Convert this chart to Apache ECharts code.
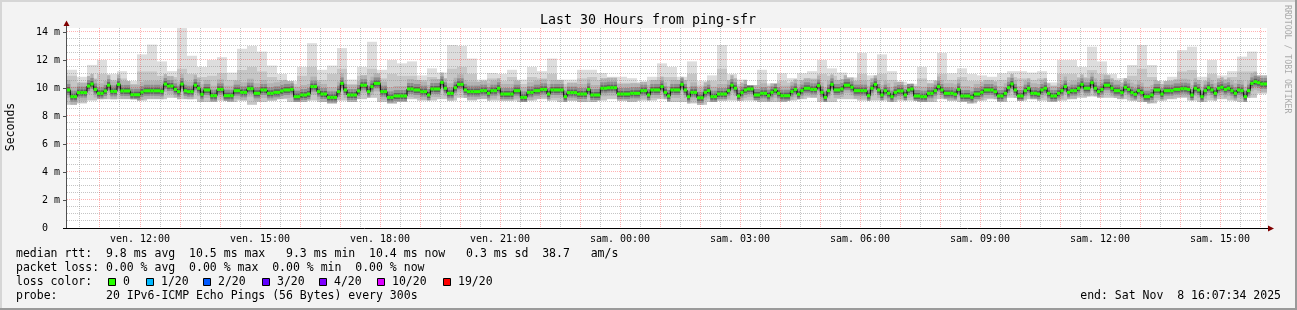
<!DOCTYPE html>
<html><head><meta charset="utf-8">
<script src="https://cdn.jsdelivr.net/npm/echarts@6/dist/echarts.min.js"></script>
<style>html,body{margin:0;padding:0;background:#f3f3f3;}#c{width:1297px;height:310px;}</style>
</head><body><div id="c"></div>
<script>
// ---- time axis (hours since Fri 00:00) ----
const startHour = 10.175;   // Fri 10:10:30
const endHour = 40.175;     // Sat 16:10:30
const medianStepH = 5 / 60;  // 300 s samples
const smokeStepH = 15 / 60;
const yAxisMax = 14.2857;

// median RTT (ms), one value per 5-minute sample
const medianRtt = [
9.86,9.38,9.38,9.67,9.67,9.67,10.14,10.29,9.9,9.62,9.62,9.79,
10.2,9.76,9.76,10.26,9.79,9.79,9.79,9.52,9.52,9.52,9.71,9.8,
9.8,9.8,9.8,9.8,9.76,10.28,10.14,10.14,9.9,9.74,10.28,9.8,
9.74,9.74,10.2,9.98,9.55,9.86,9.86,9.45,9.45,9.9,9.9,9.45,
9.45,9.45,9.81,9.81,9.69,9.69,9.95,9.95,9.62,9.62,9.86,9.86,
9.62,9.62,9.69,9.69,9.79,9.86,9.86,9.9,9.38,9.38,9.5,9.5,
9.57,10.1,10.1,9.74,9.57,9.57,9.33,9.33,9.33,9.74,10.33,9.86,
9.5,9.5,9.5,9.79,10.2,10.2,9.74,10.1,10.33,10.33,9.74,9.74,
9.33,9.33,9.43,9.43,9.43,9.43,9.93,9.93,9.86,9.86,9.74,9.74,
9.5,9.93,9.93,9.93,10.4,9.98,9.62,9.62,10.02,10.26,10.26,9.86,
9.74,9.74,9.74,9.74,9.81,9.81,9.62,9.81,9.81,9.98,9.57,9.57,
9.57,9.57,9.81,9.81,9.33,9.33,9.69,9.69,9.81,9.81,9.9,9.9,
9.57,9.86,9.86,9.86,9.86,9.38,9.67,9.67,9.67,9.57,9.57,9.57,
9.9,9.5,9.5,9.5,9.98,9.98,10.02,10.02,10.02,9.57,9.57,9.57,
9.57,9.62,9.62,9.62,9.81,9.81,9.5,9.86,9.86,9.86,10.1,9.69,
9.43,9.86,9.86,9.86,10.26,9.86,9.38,9.69,9.69,9.3,9.3,9.69,
9.81,9.38,9.38,9.57,9.57,9.57,9.81,10.2,9.98,9.43,9.67,9.86,
9.93,9.93,9.5,9.5,9.62,9.62,9.45,9.69,9.86,9.62,9.45,9.45,
9.45,9.74,9.9,9.55,9.81,9.98,9.98,9.9,9.9,10.17,9.69,9.33,
9.81,10.26,9.86,9.86,9.93,10.2,10.2,10.05,9.81,9.81,9.81,9.81,
9.45,9.98,10.26,9.86,9.5,9.81,9.62,9.38,9.69,9.79,9.79,9.5,
9.86,9.93,9.43,9.43,9.38,9.38,9.62,9.62,9.81,10.1,9.86,9.62,
9.62,9.62,9.55,9.9,9.43,9.43,9.43,9.33,9.57,9.57,9.69,9.86,
9.86,9.86,9.74,9.43,9.43,9.62,10.02,10.29,9.86,9.43,9.43,9.81,
9.98,9.62,9.62,9.57,9.86,9.98,9.62,9.43,9.43,9.62,9.81,10.1,
9.69,9.81,9.81,9.98,10.26,9.98,9.98,10.38,9.98,9.74,9.9,10.2,
10.2,9.98,9.81,9.81,9.67,10.05,9.9,9.67,9.55,9.81,9.67,9.38,
9.38,9.5,9.86,9.86,9.57,9.81,9.81,9.81,9.9,9.9,9.95,9.95,
9.9,9.5,9.98,9.86,9.38,9.81,10.02,9.86,9.62,9.98,10.05,9.9,
9.98,9.81,9.62,9.86,9.81,9.38,9.81,10.33,10.45,10.38,10.29,10.29
];

// smoke envelope (ms), one value per 15 minutes
const smokeMin = [
8.8,8.9,9.1,9.2,9.2,9.2,9.2,9.1,9.2,9.2,
9.3,9.2,9.2,9.0,9.0,9.1,9.0,9.1,8.8,9.0,
9.1,9.2,9.0,9.0,9.1,9.0,8.9,9.1,9.0,9.2,
9.3,9.0,8.9,9.0,9.2,9.1,9.1,9.2,9.1,9.3,
9.1,9.2,9.1,9.1,9.1,9.0,9.1,9.2,9.1,9.0,
9.1,9.0,9.0,9.1,9.2,9.1,9.0,9.1,9.1,9.2,
9.0,9.0,8.9,8.8,9.0,9.1,9.1,9.1,9.1,9.0,
9.0,9.0,9.1,9.2,9.3,9.0,9.0,9.2,9.2,9.1,
9.1,9.1,9.0,9.1,9.1,9.0,9.0,9.2,9.1,9.0,
8.9,9.1,9.2,9.0,9.3,9.1,9.2,9.1,9.0,9.1,
9.2,9.3,9.4,9.3,9.3,9.2,9.1,9.0,8.9,9.1,
9.2,9.3,9.1,9.0,9.1,9.2,9.1,9.0,9.3,9.6
];
const smokeMid = [
10.9,10.4,10.7,11.0,10.6,10.7,10.3,11.2,11.2,10.9,
10.8,11.4,11.0,10.8,10.9,11.1,10.6,11.3,11.5,11.2,
10.8,10.6,10.3,10.9,11.5,10.6,11.0,11.4,10.3,10.9,
11.4,10.7,11.0,10.9,10.9,10.6,10.8,10.6,11.4,11.5,
11.0,10.3,10.7,10.5,10.8,10.3,10.8,10.7,11.0,10.3,
10.3,10.7,10.8,10.6,10.5,10.4,10.4,10.2,10.5,10.8,
10.8,10.5,11.0,10.2,10.5,11.4,10.6,10.3,10.1,10.6,
10.1,10.5,10.4,10.6,10.7,11.0,10.9,10.6,10.5,11.0,
10.6,11.0,10.6,10.2,10.1,10.7,10.3,11.0,10.6,10.8,
10.5,10.5,10.5,10.6,10.8,10.7,10.6,10.7,10.2,11.0,
11.0,10.8,11.3,11.0,10.6,10.4,10.9,11.4,10.8,10.3,
10.5,11.2,11.3,10.5,11.0,10.6,10.8,11.2,11.2,10.7
];
const smokeMax = [
11.3,10.8,11.65,12.0,11.0,11.2,10.5,12.4,13.1,11.9,
11.2,14.28,12.3,11.5,12.0,12.2,11.1,12.8,13.0,12.6,
11.6,11.0,10.5,11.5,13.2,11.3,11.6,12.85,10.6,11.5,
13.3,11.3,12.0,11.76,11.9,10.9,11.4,11.1,13.07,13.0,
12.1,10.6,11.07,11.0,11.3,10.6,11.5,11.2,12.1,10.6,
10.6,11.3,11.3,11.07,10.8,10.8,10.7,10.45,10.8,11.76,
11.5,10.8,11.9,10.5,10.9,13.07,11.0,10.6,10.2,11.3,
10.33,11.05,10.7,11.05,11.2,12.0,11.4,11.1,10.75,12.5,
10.9,12.4,11.2,10.45,10.3,11.5,10.57,12.5,11.05,11.4,
11.0,10.9,10.8,11.05,11.2,11.2,11.1,11.2,10.4,12.0,
12.0,11.5,12.95,11.9,11.0,10.7,11.64,13.07,11.64,10.5,
10.8,12.7,12.95,10.8,12.0,10.9,11.2,12.24,12.6,10.9
];

// ticks & grid
const xTickHours = [12,15,18,21,24,27,30,33,36,39];
const xTickLabels = ['ven. 12:00','ven. 15:00','ven. 18:00','ven. 21:00','sam. 00:00','sam. 03:00','sam. 06:00','sam. 09:00','sam. 12:00','sam. 15:00'];
const yTickValues = [0,2,4,6,8,10,12,14];
const yTickLabels = ['0  ','2 m','4 m','6 m','8 m','10 m','12 m','14 m'];
const majorGridHours = [11,12,13,14,15,16,17,18,19,20,21,22,23,24,25,26,27,28,29,30,31,32,33,34,35,36,37,38,39,40];
const minorGridHours = [10.5,11.5,12.5,13.5,14.5,15.5,16.5,17.5,18.5,19.5,20.5,21.5,22.5,23.5,24.5,25.5,26.5,27.5,28.5,29.5,30.5,31.5,32.5,33.5,34.5,35.5,36.5,37.5,38.5,39.5];
const majorGridY = [2,4,6,8,10,12,14];
const minorGridY = [0.5,1,1.5,2.5,3,3.5,4.5,5,5.5,6.5,7,7.5,8.5,9,9.5,10.5,11,11.5,12.5,13,13.5];

// legend texts
const titleText = 'Last 30 Hours from ping-sfr';
const legendRtt = 'median rtt:  9.8 ms avg  10.5 ms max   9.3 ms min  10.4 ms now   0.3 ms sd  38.7   am/s';
const legendLoss = 'packet loss: 0.00 % avg  0.00 % max  0.00 % min  0.00 % now';
const legendLossColor = 'loss color:';
const lossLabels = ['0','1/20','2/20','3/20','4/20','10/20','19/20'];
const lossColors = ['#26ff00','#00b8ff','#0059ff','#5e00ff','#7e00ff','#dd00ff','#ff0000'];
const legendProbe = 'probe:       20 IPv6-ICMP Echo Pings (56 Bytes) every 300s';
const legendEnd = 'end: Sat Nov  8 16:07:34 2025';
const watermark = 'RRDTOOL / TOBI OETIKER';

// ---- layout ----
const MONO = '"DejaVu Sans Mono", "Liberation Mono", monospace';
const lossBoxX = [108, 146, 203, 262, 319, 377, 443];

const chart = echarts.init(document.getElementById('c'), null, {renderer: 'canvas', width: 1297, height: 310});

function gridSeries(values, vertical, color) {
  return {
    type: 'custom', silent: true, z: 5,
    data: values.map(v => vertical ? [v, 0] : [startHour, v]),
    encode: {x: 0, y: 1},
    renderItem(params, api) {
      const cs = params.coordSys;
      const p = api.coord([api.value(0), api.value(1)]);
      let shape;
      if (vertical) {
        const x = Math.floor(p[0]) + 0.5;
        shape = {x1: x, y1: cs.y, x2: x, y2: cs.y + cs.height};
      } else {
        const y = Math.floor(p[1]) + 0.5;
        shape = {x1: cs.x, y1: y, x2: cs.x + cs.width, y2: y};
      }
      return {type: 'line', shape, style: {stroke: color, lineWidth: 1, lineDash: [1, 1]}};
    }
  };
}

const smokeData = smokeMin.map((v, j) => [startHour + j * smokeStepH, v, smokeMid[j], smokeMax[j]]);
const medianData = medianRtt.map((v, i) => [startHour + i * medianStepH, v]);
const medianLine = medianData.concat([[endHour, medianRtt[medianRtt.length - 1]]]);

const option = {
  backgroundColor: '#f3f3f3',
  animation: false,
  grid: {left: 67, top: 28, width: 1200, height: 200, show: true, backgroundColor: '#ffffff', borderWidth: 0},
  xAxis: {
    type: 'value', min: startHour, max: endHour,
    axisLine: {show: false}, axisTick: {show: false}, splitLine: {show: false},
    axisLabel: {
      customValues: xTickHours,
      formatter: v => { const k = xTickHours.findIndex(h => Math.abs(h - v) < 1e-6); return k >= 0 ? xTickLabels[k] : ''; },
      fontFamily: MONO, fontSize: 10, color: '#000', margin: 6
    }
  },
  yAxis: {
    type: 'value', min: 0, max: yAxisMax,
    axisLine: {show: false}, axisTick: {show: false}, splitLine: {show: false},
    axisLabel: {
      customValues: yTickValues,
      formatter: v => { const k = yTickValues.findIndex(h => Math.abs(h - v) < 1e-6); return k >= 0 ? yTickLabels[k] : ''; },
      fontFamily: MONO, fontSize: 10, color: '#000', margin: 7
    }
  },
  series: [
    { // smoke
      type: 'custom', silent: true, z: 2,
      data: smokeData, encode: {x: 0, y: [1, 2, 3]},
      renderItem(params, api) {
        const t0 = api.value(0);
        const pMin = api.coord([t0, api.value(1)]);
        const pMid = api.coord([t0, api.value(2)]);
        const pMax = api.coord([t0 + smokeStepH, api.value(3)]);
        const x0 = pMin[0], w = pMax[0] - pMin[0];
        return {type: 'group', children: [
          {type: 'rect', shape: {x: x0, y: pMax[1], width: w, height: pMid[1] - pMax[1]}, style: {fill: '#dddddd'}},
          {type: 'rect', shape: {x: x0, y: pMid[1], width: w, height: pMin[1] - pMid[1]}, style: {fill: '#c6c6c6'}}
        ]};
      }
    },
    { // dense smoke core around the median
      type: 'custom', silent: true, z: 3,
      data: medianData, encode: {x: 0, y: 1},
      renderItem(params, api) {
        const i = params.dataIndex;
        const t0 = api.value(0);
        const p0 = api.coord([t0, api.value(1)]);
        const p1 = api.coord([t0 + medianStepH, api.value(1)]);
        const j = Math.min(smokeMin.length - 1, Math.floor(i * medianStepH / smokeStepH + 1e-9));
        const yLo = api.coord([t0, smokeMin[j]])[1];
        const yHi = api.coord([t0, smokeMax[j]])[1];
        const band = (up, down, fill) => {
          const top = Math.max(p0[1] - up, yHi), bot = Math.min(p0[1] + down, yLo);
          return {type: 'rect', shape: {x: p0[0], y: top, width: p1[0] - p0[0], height: Math.max(0, bot - top)}, style: {fill}};
        };
        return {type: 'group', children: [band(10, 8, '#b2b2b2'), band(6, 5, '#8e8e8e'), band(3, 3, '#626262')]};
      }
    },
    gridSeries(minorGridHours, true, 'rgba(140,140,140,0.5)'),
    gridSeries(minorGridY, false, 'rgba(140,140,140,0.5)'),
    gridSeries(majorGridHours, true, 'rgba(255,0,0,0.3)'),
    gridSeries(majorGridY, false, 'rgba(255,0,0,0.3)'),
    { // median connector
      type: 'line', step: 'end', data: medianLine, showSymbol: false, symbol: 'none', silent: true, z: 8,
      lineStyle: {color: '#000000', width: 1}
    },
    { // median, coloured by loss (0 loss -> green)
      type: 'custom', silent: true, z: 9,
      data: medianData, encode: {x: 0, y: 1},
      renderItem(params, api) {
        const t0 = api.value(0);
        const p0 = api.coord([t0, api.value(1)]);
        const p1 = api.coord([t0 + medianStepH, api.value(1)]);
        return {type: 'rect', shape: {x: p0[0], y: p0[1] - 1.5, width: p1[0] - p0[0], height: 3}, style: {fill: lossColors[0]}};
      }
    }
  ],
  graphic: [
    // frame
    {type: 'rect', shape: {x: 0, y: 0, width: 1297, height: 2}, style: {fill: '#d6d6d6'}, silent: true},
    {type: 'rect', shape: {x: 0, y: 0, width: 2, height: 310}, style: {fill: '#d6d6d6'}, silent: true},
    {type: 'rect', shape: {x: 0, y: 308, width: 1297, height: 2}, style: {fill: '#9a9a9a'}, silent: true},
    {type: 'rect', shape: {x: 1295, y: 0, width: 2, height: 310}, style: {fill: '#9a9a9a'}, silent: true},
    // axes
    {type: 'line', shape: {x1: 66.5, y1: 228, x2: 66.5, y2: 25}, style: {stroke: '#505050', lineWidth: 1}, z: 20, silent: true},
    {type: 'line', shape: {x1: 63, y1: 228.5, x2: 1269, y2: 228.5}, style: {stroke: '#000000', lineWidth: 1}, z: 20, silent: true},
    {type: 'polygon', shape: {points: [[63.5, 26], [69.5, 26], [66.5, 20.5]]}, style: {fill: '#800000'}, z: 20, silent: true},
    {type: 'polygon', shape: {points: [[1268, 225.5], [1268, 231.5], [1274, 228.5]]}, style: {fill: '#800000'}, z: 20, silent: true},
    // texts
    {type: 'text', x: 648, y: 20.5, style: {text: titleText, font: '13.3px ' + MONO, fill: '#000', textAlign: 'center', textVerticalAlign: 'middle', align: 'center', verticalAlign: 'middle'}, silent: true},
    {type: 'text', x: 11, y: 127, rotation: Math.PI / 2, style: {text: 'Seconds', font: '11.5px ' + MONO, fill: '#000', textAlign: 'center', textVerticalAlign: 'middle', align: 'center', verticalAlign: 'middle'}, silent: true},
    {type: 'text', x: 1287, y: 5, rotation: -Math.PI / 2, style: {text: watermark, font: '8.2px ' + MONO, fill: '#aaaaaa', textAlign: 'left', textVerticalAlign: 'middle', align: 'left', verticalAlign: 'middle'}, silent: true},
    {type: 'text', x: 16, y: 254, style: {text: legendRtt, font: '11.5px ' + MONO, fill: '#000', textVerticalAlign: 'middle', verticalAlign: 'middle'}, silent: true},
    {type: 'text', x: 16, y: 268, style: {text: legendLoss, font: '11.5px ' + MONO, fill: '#000', textVerticalAlign: 'middle', verticalAlign: 'middle'}, silent: true},
    {type: 'text', x: 16, y: 282, style: {text: legendLossColor, font: '11.5px ' + MONO, fill: '#000', textVerticalAlign: 'middle', verticalAlign: 'middle'}, silent: true},
    {type: 'text', x: 16, y: 296, style: {text: legendProbe, font: '11.5px ' + MONO, fill: '#000', textVerticalAlign: 'middle', verticalAlign: 'middle'}, silent: true},
    {type: 'text', x: 1281, y: 296, style: {text: legendEnd, font: '11.5px ' + MONO, fill: '#000', textAlign: 'right', align: 'right', textVerticalAlign: 'middle', verticalAlign: 'middle'}, silent: true}
  ].concat(
    lossLabels.map((lab, k) => ({type: 'rect', shape: {x: lossBoxX[k] + 0.5, y: 278.5, width: 7, height: 7}, style: {fill: lossColors[k], stroke: '#000', lineWidth: 1}, silent: true})),
    lossLabels.map((lab, k) => ({type: 'text', x: lossBoxX[k] + 15, y: 282, style: {text: lab, font: '11.5px ' + MONO, fill: '#000', textVerticalAlign: 'middle', verticalAlign: 'middle'}, silent: true})),
    yTickValues.map(v => ({type: 'line', shape: {x1: 63, y1: 228 - v * 14 + 0.5, x2: 66, y2: 228 - v * 14 + 0.5}, style: {stroke: '#505050', lineWidth: 1}, silent: true}))
  )
};
chart.setOption(option);
</script>
</body></html>
